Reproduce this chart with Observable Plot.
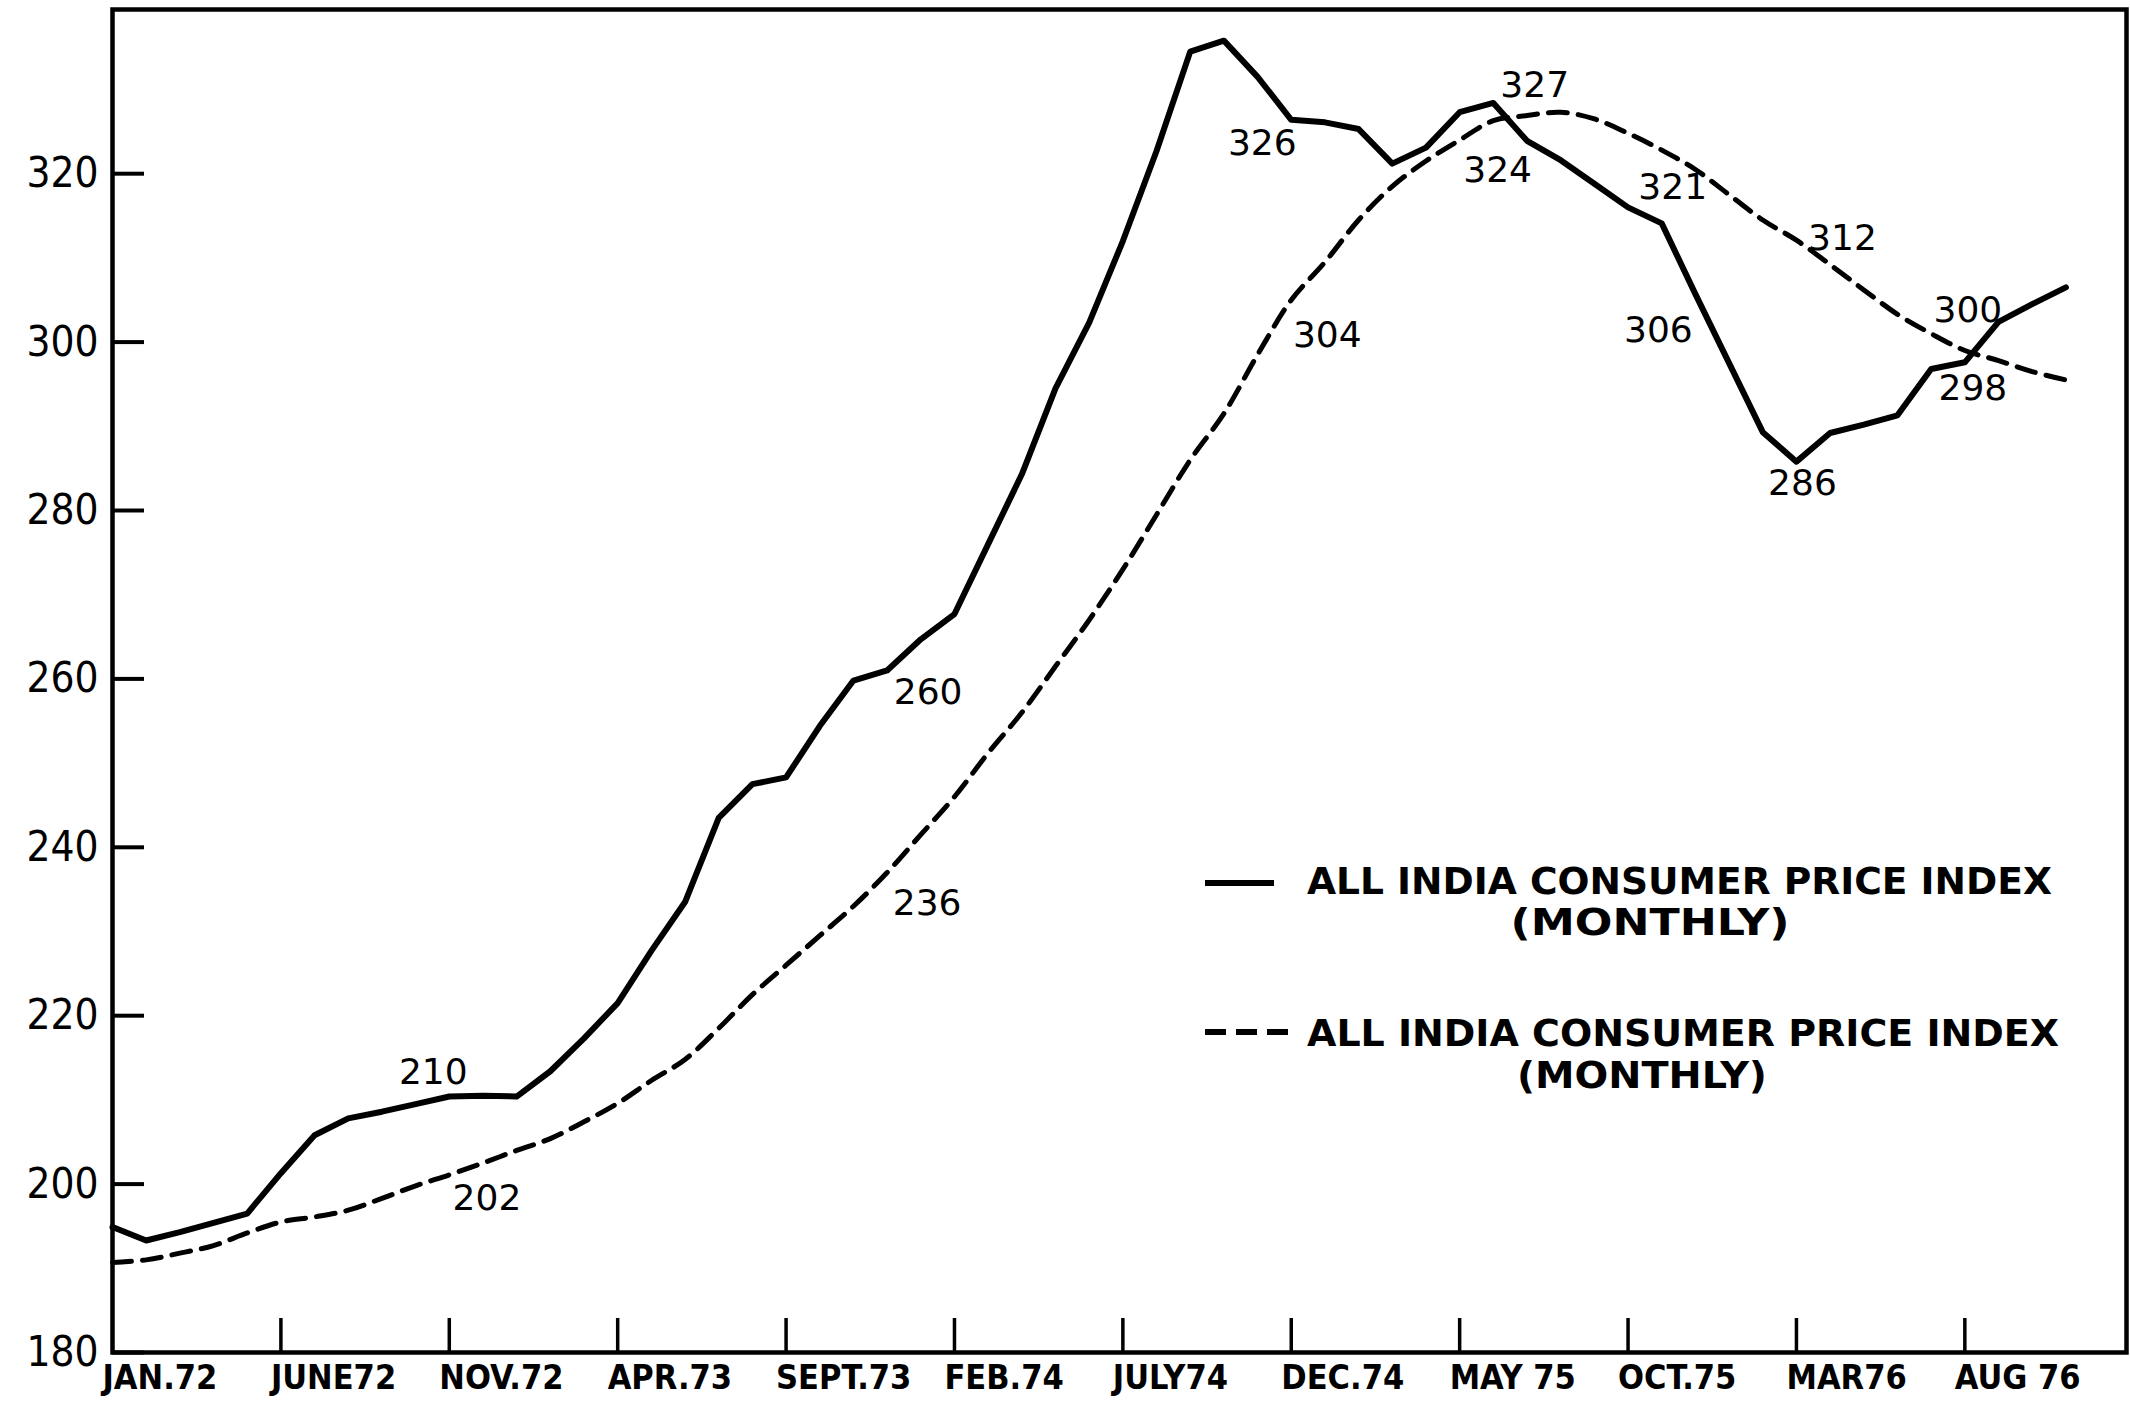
<!DOCTYPE html>
<html>
<head>
<meta charset="utf-8">
<script src="https://cdn.jsdelivr.net/npm/d3@7"></script>
<script src="https://cdn.jsdelivr.net/npm/@observablehq/plot@0.6"></script>
<style>
  html, body { margin: 0; padding: 0; background: #fff; }
  #wrap { position: relative; width: 2130px; height: 1401px; }
  #legend { position: absolute; left: 0; top: 0; pointer-events: none; }
</style>
</head>
<body>
<div id="wrap"></div>
<script>
// Month index: 0 = Jan 1972 ... 58 = Nov 1976
const monthIndex = d3.range(0, 59);

// Solid line: All India consumer price index (monthly)
const solidValues = [
  194.9,193.3,194.3,195.4,196.5,201.3,205.8,207.8,208.6,209.5,
  210.4,210.5,210.4,213.4,217.3,221.5,227.7,233.5,243.5,247.5,
  248.3,254.4,259.8,261.0,264.7,267.7,276.0,284.3,294.5,302.3,
  312.0,322.7,334.5,335.8,331.5,326.4,326.1,325.3,321.2,323.1,
  327.3,328.4,323.9,321.6,318.8,316.0,314.1,305.7,297.5,289.3,
  285.8,289.2,290.2,291.3,296.8,297.6,302.4,304.5,306.5
];

// Dashed line: All India consumer price index (monthly, smoothed)
const dashedValues = [
  190.7,191.0,191.8,192.7,194.2,195.5,196.1,196.9,198.3,199.8,
  201.1,202.5,204.0,205.4,207.4,209.6,212.3,214.8,218.5,222.5,
  226.0,229.5,233.0,237.0,241.5,246.0,251.2,256.0,261.5,267.0,
  273.0,279.5,286.0,291.5,298.5,305.0,309.5,314.5,318.5,321.5,
  324.0,326.3,326.9,327.3,326.5,324.8,322.8,320.5,317.5,314.5,
  312.1,309.2,306.2,303.3,301.0,299.0,297.8,296.5,295.5
];

// Axis ticks
const xTickMonths = [0,5,10,15,20,25,30,35,40,45,50,55];
const xTickLabels = ["JAN.72","JUNE72","NOV.72","APR.73","SEPT.73","FEB.74",
                     "JULY74","DEC.74","MAY 75","OCT.75","MAR76","AUG 76"];
const yTicks = [180,200,220,240,260,280,300,320];

// Value annotations: text, series, month they refer to
const annoText   = ["210","202","260","236","326","304","327","324","321","312","306","286","300","298"];
const annoSeries = ["solid","dashed","solid","dashed","solid","dashed","dashed","dashed","dashed","dashed","solid","solid","dashed","solid"];
const annoMonth  = [10,11,23,23,35,35,43,40,46,50,47,50,55,55];
// label placement offsets (px) relative to the referenced point
const annoDx = [-16,4,41,40,-29,36,-26,38,11,46,-37,6,3,8];
const annoDy = [-24,35,22,31,24,35,-27,30,37,-2,36,22,-40,26];

const solid = monthIndex.map((m, i) => ({m, v: solidValues[i]}));
const dashed = monthIndex.map((m, i) => ({m, v: dashedValues[i]}));
const seriesOf = {solid: solidValues, dashed: dashedValues};
const annos = annoText.map((t, i) => ({
  text: t, m: annoMonth[i], v: seriesOf[annoSeries[i]][annoMonth[i]],
  dx: annoDx[i], dy: annoDy[i]
}));

const tickFont = "'DejaVu Sans Condensed', 'DejaVu Sans', sans-serif";

const chart = Plot.plot({
  width: 2130,
  height: 1401,
  marginLeft: 112,
  marginRight: 4,
  marginTop: 9,
  marginBottom: 49,
  style: {background: "white", color: "black"},
  x: {domain: [0, 59.8]},
  y: {domain: [180, 339.5]},
  marks: [
    // y labels
    Plot.axisY({ticks: yTicks, tickSize: 0, tickPadding: 14, fontSize: 42,
                fontFamily: tickFont, tickFormat: d => String(d), label: null}),
    // y inward ticks
    Plot.axisY({ticks: yTicks, tickSize: -32, text: null, strokeWidth: 4, label: null}),
    // x labels
    Plot.axisX({ticks: xTickMonths, tickSize: 0, tickPadding: 12, fontSize: 34,
                fontWeight: "bold", fontFamily: tickFont, textAnchor: "start", dx: -10,
                tickFormat: d => xTickLabels[xTickMonths.indexOf(d)], label: null}),
    // x inward ticks
    Plot.axisX({ticks: xTickMonths.slice(1), tickSize: -34, text: null, strokeWidth: 3.5, label: null}),
    Plot.frame({stroke: "black", strokeWidth: 4.5}),
    Plot.line(dashed, {x: "m", y: "v", stroke: "black", strokeWidth: 5,
                       strokeDasharray: "19,11", curve: "catmull-rom"}),
    Plot.line(solid, {x: "m", y: "v", stroke: "black", strokeWidth: 6,
                      strokeLinejoin: "round", strokeLinecap: "round"}),
    ...annos.map(a => Plot.text([a], {x: "m", y: "v", text: "text", dx: a.dx, dy: a.dy,
                      fontSize: 36, fontFamily: "'DejaVu Sans', sans-serif", fill: "black"}))
  ]
});

const wrap = document.getElementById("wrap");
wrap.appendChild(chart);

// Legend overlay
const legendFont = "'DejaVu Sans Condensed', 'DejaVu Sans', sans-serif";
const legendItems = [
  {dash: null, title: "ALL INDIA CONSUMER PRICE INDEX", sub: "(MONTHLY)"},
  {dash: "21,10", title: "ALL INDIA CONSUMER PRICE INDEX", sub: "(MONTHLY)"}
];
const lg = d3.select(wrap).append("svg")
  .attr("id", "legend").attr("width", 2130).attr("height", 1401);
const legendLayout = [
  {lineX1: 1205, lineX2: 1274, lineY: 883, textX: 1307, textY: 894, textW: 745, subX: 1650, subY: 935, subW: 279},
  {lineX1: 1205, lineX2: 1292, lineY: 1032, textX: 1307, textY: 1046, textW: 752, subX: 1642, subY: 1088, subW: 250}
];
legendItems.forEach((it, i) => {
  const L = legendLayout[i];
  lg.append("line").attr("x1", L.lineX1).attr("x2", L.lineX2)
    .attr("y1", L.lineY).attr("y2", L.lineY)
    .attr("stroke", "black").attr("stroke-width", 6)
    .attr("stroke-dasharray", it.dash);
  lg.append("text").attr("x", L.textX).attr("y", L.textY)
    .attr("font-family", legendFont).attr("font-size", 38).attr("font-weight", "bold")
    .attr("textLength", L.textW).attr("lengthAdjust", "spacingAndGlyphs")
    .text(it.title);
  lg.append("text").attr("x", L.subX).attr("y", L.subY).attr("text-anchor", "middle")
    .attr("font-family", legendFont).attr("font-size", 38).attr("font-weight", "bold")
    .attr("textLength", L.subW).attr("lengthAdjust", "spacingAndGlyphs")
    .text(it.sub);
});
</script>
</body>
</html>
